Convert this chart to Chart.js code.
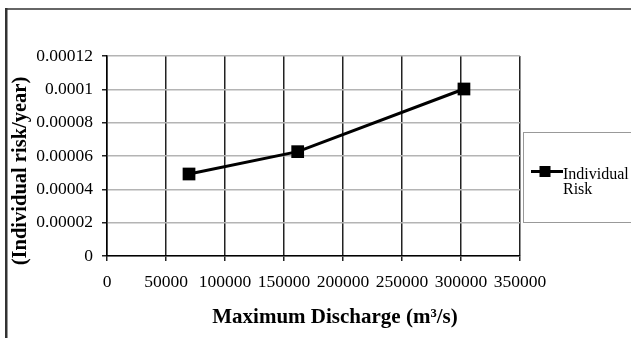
<!DOCTYPE html>
<html>
<head>
<meta charset="utf-8">
<script src="https://cdn.jsdelivr.net/npm/chart.js@4.4.1/dist/chart.umd.min.js"></script>
<style>
  html, body { margin: 0; padding: 0; background: #fff; overflow: hidden; }
  canvas { display: block; }
</style>
</head>
<body>
<canvas id="c" width="631" height="338"></canvas>
<script>
// Maximum discharge (m3/s) and the individual risk per year at each discharge
const discharge = [69500, 161600, 302500];
const individualRisk = [0.0000492, 0.0000626, 0.0001002];

const xTickLabels = ['0', '50000', '100000', '150000', '200000', '250000', '300000', '350000'];
const yTickLabels = ['0', '0.00002', '0.00004', '0.00006', '0.00008', '0.0001', '0.00012'];

const seriesName = 'Individual Risk';
const xTitle = 'Maximum Discharge (m\u00B3/s)';
const yTitle = '(Individual risk/year)';

const SERIF = '"Liberation Serif", "Times New Roman", serif';

// Outer frame, axis titles and the boxed legend on the right
const decorations = {
  id: 'decorations',
  beforeDraw(chart) {
    const ctx = chart.ctx;
    ctx.save();
    ctx.fillStyle = '#fff';
    ctx.fillRect(0, 0, chart.width, chart.height);
    ctx.fillStyle = '#666';
    ctx.fillRect(6, 8, chart.width - 6, 2);
    ctx.fillStyle = '#333';
    ctx.fillRect(5, 8, 2.5, chart.height - 8);
    ctx.restore();
  },
  afterDraw(chart) {
    const ctx = chart.ctx;
    ctx.save();
    ctx.fillStyle = '#000';
    ctx.textAlign = 'center';
    ctx.textBaseline = 'middle';
    // x-axis title
    ctx.font = 'bold 21px ' + SERIF;
    ctx.fillText(xTitle, 335, 318);
    // y-axis title
    ctx.save();
    ctx.translate(21, 171);
    ctx.rotate(-Math.PI / 2);
    ctx.font = 'bold 20.5px ' + SERIF;
    ctx.fillText(yTitle, 0, 0);
    ctx.restore();

    // legend box
    const ds = chart.data.datasets[0];
    ctx.fillStyle = '#fff';
    ctx.fillRect(523, 132, chart.width - 523, 91);
    ctx.strokeStyle = '#999';
    ctx.lineWidth = 1;
    ctx.strokeRect(523.5, 132.5, chart.width, 90);
    // line sample with marker
    ctx.strokeStyle = ds.borderColor;
    ctx.lineWidth = ds.borderWidth;
    ctx.beginPath();
    ctx.moveTo(531, 171.5);
    ctx.lineTo(563, 171.5);
    ctx.stroke();
    ctx.fillStyle = ds.pointBackgroundColor;
    ctx.fillRect(539.5, 166, 11, 11);
    // label text, wrapped onto two lines
    ctx.fillStyle = '#000';
    ctx.font = '16px ' + SERIF;
    ctx.textAlign = 'left';
    ctx.textBaseline = 'alphabetic';
    const words = ds.label.split(' ');
    words.forEach((w, i) => ctx.fillText(w, 563, 179 + i * 15));
    ctx.restore();
  }
};

const points = discharge.map((x, i) => ({ x: x, y: individualRisk[i] }));

new Chart(document.getElementById('c'), {
  type: 'line',
  data: {
    datasets: [{
      label: seriesName,
      data: points,
      borderColor: '#000',
      borderWidth: 3,
      pointStyle: 'rect',
      pointRadius: 9,
      pointHoverRadius: 9,
      pointBackgroundColor: '#000',
      pointBorderColor: '#000',
      pointBorderWidth: 0,
      tension: 0,
      clip: false
    }]
  },
  options: {
    responsive: false,
    animation: false,
    devicePixelRatio: 1,
    layout: { padding: { left: 8, top: 56, right: 111, bottom: 0 } },
    plugins: {
      legend: { display: false },
      tooltip: { enabled: false }
    },
    scales: {
      x: {
        type: 'linear',
        min: 0,
        max: 350000,
        afterFit(scale) { scale.height = 82; },
        ticks: {
          stepSize: 50000,
          autoSkip: false,
          maxRotation: 0,
          padding: 11,
          color: '#000',
          font: { family: SERIF, size: 17.5 },
          callback: (v, i) => xTickLabels[i]
        },
        grid: {
          color: '#222',
          lineWidth: 1.5,
          tickLength: 5,
          tickColor: '#222'
        },
        border: { color: '#000', width: 1.5 }
      },
      y: {
        min: 0,
        max: 0.00012,
        afterFit(scale) { scale.width = 99; },
        ticks: {
          stepSize: 0.00002,
          padding: 9,
          color: '#000',
          font: { family: SERIF, size: 17.5 },
          callback: (v, i) => yTickLabels[i]
        },
        grid: {
          color: '#b4b4b4',
          lineWidth: 1.5,
          tickLength: 5,
          tickColor: '#222'
        },
        border: { color: '#000', width: 1.5 }
      }
    }
  },
  plugins: [decorations]
});
</script>
</body>
</html>
